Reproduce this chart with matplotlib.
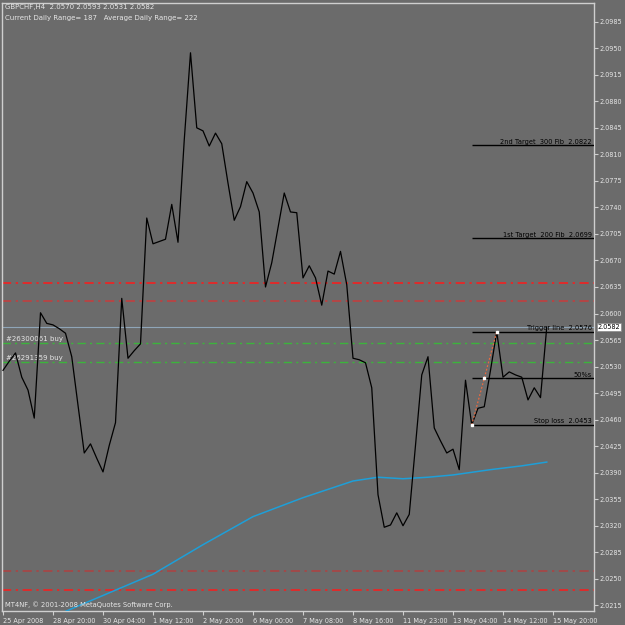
import matplotlib
matplotlib.use("Agg")
import matplotlib.pyplot as plt
from matplotlib.transforms import blended_transform_factory

# ---------------- data ----------------
close = [2.0525, 2.0537, 2.0548, 2.0516, 2.0499, 2.0462, 2.0601, 2.0587, 2.0585, 2.0580,
         2.0574, 2.0543, 2.0479, 2.0416, 2.0428, 2.0409, 2.0391, 2.0426, 2.0456, 2.0620,
         2.0541, 2.0551, 2.0560, 2.0726, 2.0692, 2.0695, 2.0698, 2.0744, 2.0694, 2.0829,
         2.0944, 2.0845, 2.0841, 2.0821, 2.0838, 2.0824, 2.0772, 2.0723, 2.0741, 2.0774,
         2.0759, 2.0734, 2.0635, 2.0667, 2.0713, 2.0759, 2.0734, 2.0733, 2.0647, 2.0663,
         2.0647, 2.0611, 2.0656, 2.0652, 2.0682, 2.0638, 2.0541, 2.0539, 2.0535, 2.0502,
         2.0361, 2.0318, 2.0321, 2.0337, 2.0320, 2.0335, 2.0426, 2.0519, 2.0543, 2.0449,
         2.0432, 2.0416, 2.0421, 2.0394, 2.0512, 2.0453, 2.0475, 2.0477, 2.0525, 2.0576,
         2.0516, 2.0523, 2.0519, 2.0516, 2.0486, 2.0502, 2.0489, 2.0582]

ma_bars = [8, 16, 24, 32, 40, 48, 56, 60, 64, 68, 72, 78, 83, 87]
ma_vals = [2.0200, 2.0228, 2.0256, 2.0295, 2.0332, 2.0357, 2.0379, 2.0384, 2.0382,
           2.0384, 2.0387, 2.0394, 2.0399, 2.0404]

xtick_bars = [0, 8, 16, 24, 32, 40, 48, 56, 64, 72, 80, 88]
xtick_labels = ["25 Apr 2008", "28 Apr 20:00", "30 Apr 04:00", "1 May 12:00",
                "2 May 20:00", "6 May 00:00", "7 May 08:00", "8 May 16:00",
                "11 May 23:00", "13 May 04:00", "14 May 12:00", "15 May 20:00"]
ytick_vals = [2.0215, 2.0250, 2.0285, 2.0320, 2.0355, 2.0390, 2.0425, 2.0460, 2.0495,
              2.0530, 2.0565, 2.0600, 2.0635, 2.0670, 2.0705, 2.0740, 2.0775, 2.0810,
              2.0845, 2.0880, 2.0915, 2.0950, 2.0985]

red_levels = [2.0640, 2.0616, 2.0260, 2.0235]
red_colors = ["#ff1a1a", "#c83c3c", "#b04040", "#ff1a1a"]
order_levels = [2.0561, 2.0536]
order_labels = ["#26300061 buy", "#26291359 buy"]
bid = 2.0582

fib_start_bar = 75
fib_levels = [2.0822, 2.0699, 2.0576, 2.05145, 2.0453]
fib_labels = ["2nd Target  300 Fib  2.0822", "1st Target  200 Fib  2.0699",
              "Trigger line  2.0576", "50%s", "Stop loss  2.0453"]
fib_trend_bars = [75, 77, 79]
fib_trend_vals = [2.0453, 2.05145, 2.0576]

header1 = "GBPCHF,H4  2.0570 2.0593 2.0531 2.0582"
header2 = "Current Daily Range= 187   Average Daily Range= 222"
copyright_txt = "MT4NF, \u00a9 2001-2008 MetaQuotes Software Corp."

# ---------------- style ----------------
BG = "#6b6b6b"
FG = "#e6e6e6"
FS = 5.0
plt.rcParams["font.family"] = ["DejaVu Sans"]

W = 625
fig = plt.figure(figsize=(6.25, 6.25), dpi=100, facecolor=BG)
ax = fig.add_axes([2 / W, 14 / W, 591.5 / W, 608 / W], facecolor=BG)

x = list(range(len(close)))
ax.set_xlim(-0.16, 94.48)
ax.set_ylim(2.02075, 2.10097)

for lev, c in zip(red_levels, red_colors):
    ax.axhline(lev, color=c, lw=1.1, ls=(0, (6, 3, 1.5, 3)), zorder=2)
for lev in order_levels:
    ax.axhline(lev, color="#3cb43c", lw=1.0, ls=(0, (6, 3, 1.5, 3)), zorder=2)
ax.axhline(bid, color="#8fa5b8", lw=0.8, zorder=2)

trans = ax.get_yaxis_transform()
for lev, lab in zip(order_levels, order_labels):
    ax.text(0.007, lev + 0.0002, lab, transform=trans, color=FG, fontsize=FS,
            va="bottom", ha="left")

ax.plot(ma_bars, ma_vals, color="#1e9fd8", lw=1.1, zorder=3)
ax.plot(x, close, color="black", lw=0.9, zorder=4)

xr = ax.get_xlim()[1]
for lev, lab in zip(fib_levels, fib_labels):
    ax.hlines(lev, fib_start_bar, xr, color="black", lw=1.0, zorder=3)
    ax.text(xr - 0.3, lev + 0.0001, lab, color="black", fontsize=4.8,
            ha="right", va="bottom", zorder=5)

ax.plot(fib_trend_bars, fib_trend_vals, color="#e86a40", lw=0.9, ls=(0, (1.5, 1.5)), zorder=5)
ax.plot(fib_trend_bars, fib_trend_vals, ls="none", marker="s", ms=2, mfc="white",
        mec="white", zorder=6)

# axes decorations
for s in ax.spines.values():
    s.set_color("#cfcfcf")
    s.set_linewidth(1.0)
ax.yaxis.tick_right()
ax.set_yticks(ytick_vals)
ax.set_yticklabels([f"{v:.4f}" for v in ytick_vals])
ax.set_xticks(xtick_bars)
ax.set_xticklabels(xtick_labels)
ax.tick_params(axis="both", colors="#cfcfcf", labelcolor=FG,
               direction="out", length=3, width=0.8)
ax.tick_params(axis="y", pad=1.5, labelsize=4.7)
ax.tick_params(axis="x", pad=2, labelsize=4.7)
for lab in ax.get_xticklabels():
    lab.set_horizontalalignment("left")

# bid price box
bt = blended_transform_factory(ax.transAxes, ax.transData)
ax.text(1.0 + 4 / 591.5, bid, f"{bid:.4f}", transform=bt, fontsize=4.7, color="black",
        ha="left", va="center", zorder=10, clip_on=False,
        bbox=dict(boxstyle="square,pad=0.15", fc="white", ec="#888888", lw=0.5))

fig.text(5 / W, 1 - 7 / W, header1, color=FG, fontsize=FS, ha="left", va="center")
fig.text(5 / W, 1 - 18 / W, header2, color=FG, fontsize=FS, ha="left", va="center")
fig.text(5 / W, 1 - 605 / W, copyright_txt, color=FG, fontsize=4.9, ha="left", va="center")

fig.savefig("out.png", dpi=100, facecolor=BG)
